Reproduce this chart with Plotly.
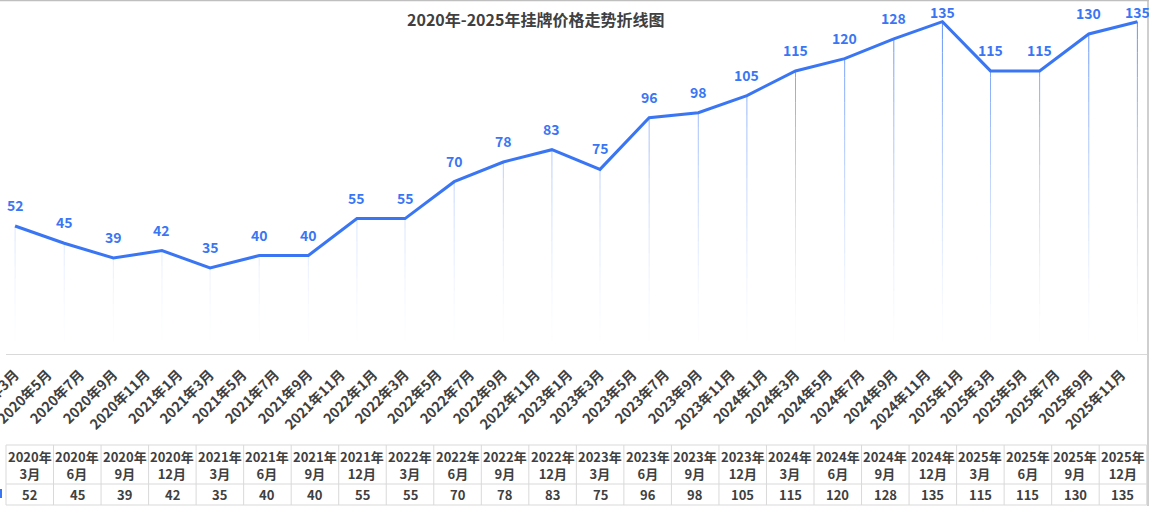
import plotly.graph_objects as go

W, H = 1149, 506

dates = ["2020-03-01", "2020-06-01", "2020-09-01", "2020-12-01",
         "2021-03-01", "2021-06-01", "2021-09-01", "2021-12-01",
         "2022-03-01", "2022-06-01", "2022-09-01", "2022-12-01",
         "2023-03-01", "2023-06-01", "2023-09-01", "2023-12-01",
         "2024-03-01", "2024-06-01", "2024-09-01", "2024-12-01",
         "2025-03-01", "2025-06-01", "2025-09-01", "2025-12-01"]
periods = ["2020年3月", "2020年6月", "2020年9月", "2020年12月",
           "2021年3月", "2021年6月", "2021年9月", "2021年12月",
           "2022年3月", "2022年6月", "2022年9月", "2022年12月",
           "2023年3月", "2023年6月", "2023年9月", "2023年12月",
           "2024年3月", "2024年6月", "2024年9月", "2024年12月",
           "2025年3月", "2025年6月", "2025年9月", "2025年12月"]
prices = [52, 45, 39, 42, 35, 40, 40, 55, 55, 70, 78, 83,
          75, 96, 98, 105, 115, 120, 128, 135, 115, 115, 130, 135]

TITLE = "2020年-2025年挂牌价格走势折线图"
BLUE = "#3A76F4"
TXT = "#404040"
GRID = "#D9D9D9"
FONT = "Noto Sans CJK SC"
YMAX = 143
PLOT_TOP, PLOT_BOT = 2, 354


def px(x):
    return x / W


def py(y):
    return 1 - y / H


fig = go.Figure()

# gradient drop lines (drawn as bands of decreasing opacity)
nb = 28
for b in range(nb):
    lo = YMAX * b / nb
    hi = YMAX * (b + 1) / nb
    xs, ys = [], []
    for d, v in zip(dates, prices):
        if v > lo:
            xs += [d, d, None]
            ys += [lo, min(hi, v), None]
    if not xs:
        continue
    a = 0.9 * ((lo + hi) / 2 / YMAX) ** 1.5
    fig.add_trace(go.Scatter(x=xs, y=ys, mode="lines",
                             line=dict(color=f"rgba(58,118,244,{a:.3f})", width=1),
                             hoverinfo="skip", showlegend=False))

fig.add_trace(go.Scatter(x=dates, y=prices, mode="lines",
                         line=dict(color=BLUE, width=3),
                         showlegend=False, cliponaxis=False))

annotations = []
for d, v in zip(dates, prices):
    # keep labels inside the chart frame (clamp near the top edge)
    ypix = PLOT_TOP + (YMAX - v) / YMAX * (PLOT_BOT - PLOT_TOP)
    shift = min(9, ypix - 24)
    annotations.append(dict(x=d, y=v, xref="x", yref="y", text=f"<b>{v}</b>",
                            showarrow=False, yanchor="bottom", yshift=shift,
                            font=dict(family=FONT, size=14, color=BLUE)))

annotations.append(dict(x=px(535), y=py(19), xref="paper", yref="paper",
                        text=f"<b>{TITLE}</b>", showarrow=False,
                        xanchor="center", yanchor="middle",
                        font=dict(family=FONT, size=16, color=TXT)))

shapes = []
# frame borders
shapes.append(dict(type="line", xref="paper", yref="paper", x0=0, x1=1,
                   y0=py(0.5), y1=py(0.5), line=dict(color="#BFBFBF", width=1.5)))
shapes.append(dict(type="line", xref="paper", yref="paper", x0=px(1148), x1=px(1148),
                   y0=0, y1=1, line=dict(color="#BFBFBF", width=1.5)))

# data table
tx0, cw = 6, 47.53
ty0, ty1, ty2 = 445, 484, 505
n = len(periods)
for yy in (ty0, ty1, ty2):
    shapes.append(dict(type="line", xref="paper", yref="paper",
                       x0=px(tx0), x1=px(tx0 + n * cw), y0=py(yy), y1=py(yy),
                       line=dict(color=GRID, width=1)))
for i in range(n + 1):
    xx = tx0 + i * cw
    shapes.append(dict(type="line", xref="paper", yref="paper",
                       x0=px(xx), x1=px(xx), y0=py(ty0), y1=py(ty2),
                       line=dict(color=GRID, width=1)))
shapes.append(dict(type="line", xref="paper", yref="paper",
                   x0=px(1), x1=px(1), y0=py(489), y1=py(498),
                   line=dict(color=BLUE, width=2)))

for i, (p, v) in enumerate(zip(periods, prices)):
    cx = tx0 + (i + 0.5) * cw
    yr, mo = p.split("年")
    annotations.append(dict(x=px(cx), y=py((ty0 + ty1) / 2), xref="paper", yref="paper",
                            text=f"<b>{yr}年</b><br><b>{mo}</b>", showarrow=False,
                            xanchor="center", yanchor="middle",
                            font=dict(family=FONT, size=13, color=TXT)))
    annotations.append(dict(x=px(cx), y=py((ty1 + ty2) / 2), xref="paper", yref="paper",
                            text=f"<b>{v}</b>", showarrow=False,
                            xanchor="center", yanchor="middle",
                            font=dict(family=FONT, size=13, color=TXT)))

fig.update_layout(
    width=W, height=H,
    margin=dict(l=0, r=0, t=0, b=0),
    paper_bgcolor="white", plot_bgcolor="white",
    annotations=annotations, shapes=shapes,
    xaxis=dict(type="date", domain=[px(6), px(1147)],
               range=["2020-02-13", "2025-12-19"],
               tick0="2020-03-01", dtick="M2", tickformat="%Y年%-m月",
               tickangle=-45, showgrid=False, zeroline=False,
               showline=True, linecolor=GRID, linewidth=1,
               ticks="", ticklabelstandoff=6, ticklabeloverflow="allow",
               automargin=False,
               tickfont=dict(family=FONT, size=14, color=TXT, weight="bold")),
    yaxis=dict(domain=[py(PLOT_BOT), py(PLOT_TOP)], range=[0, YMAX], visible=False,
               showgrid=False, zeroline=False, automargin=False),
    hovermode=False,
)

fig.write_html("out.html", config={"displayModeBar": False},
               post_script="document.body.style.margin='0';document.body.style.overflow='hidden';")
